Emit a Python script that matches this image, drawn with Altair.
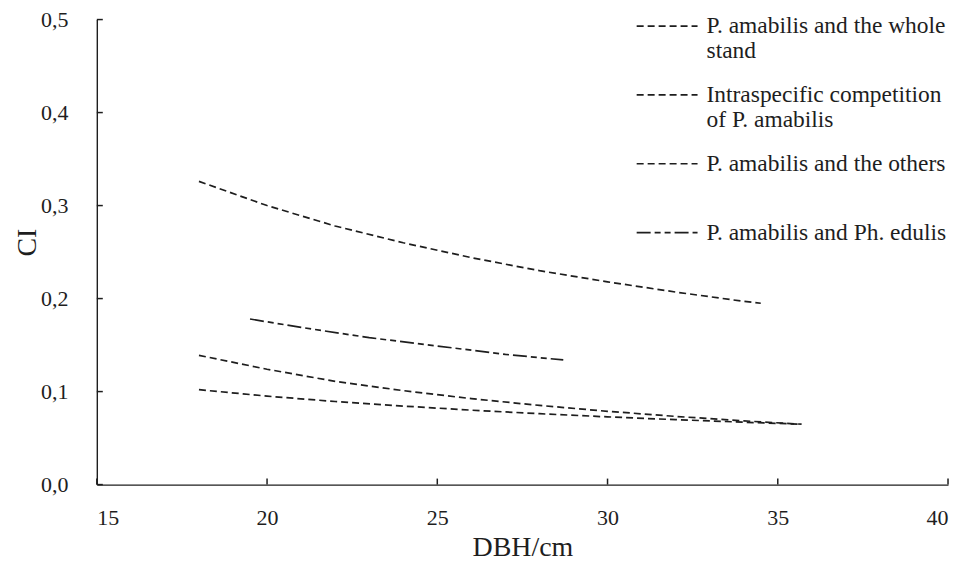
import altair as alt
import pandas as pd

# Series (DBH in cm, CI values)
names = [
    "P. amabilis and the whole|stand",
    "Intraspecific competition|of P. amabilis",
    "P. amabilis and the others| ",
    "P. amabilis and Ph. edulis",
]

whole_x = [18, 20, 22, 24, 26, 28, 30, 32, 34, 34.5]
whole_y = [0.326, 0.300, 0.278, 0.260, 0.244, 0.230, 0.218, 0.207, 0.197, 0.195]

intra_x = [18, 20, 22, 24, 26, 28, 30, 32, 34, 35.7]
intra_y = [0.139, 0.124, 0.111, 0.101, 0.0924, 0.0851, 0.0788, 0.0733, 0.0685, 0.0649]

others_x = [18, 20, 22, 24, 26, 28, 30, 32, 34, 35.7]
others_y = [0.102, 0.0951, 0.0893, 0.0844, 0.0800, 0.0762, 0.0728, 0.0698, 0.0671, 0.0649]

edulis_x = [19.5, 21, 23, 25, 27, 28.7]
edulis_y = [0.178, 0.169, 0.158, 0.149, 0.140, 0.134]

x_ticks = [15, 20, 25, 30, 35, 40]
y_ticks = [0.0, 0.1, 0.2, 0.3, 0.4, 0.5]
x_min, y_min = 15, 0.0

rows = []
for name, xs, ys in zip(names, [whole_x, intra_x, others_x, edulis_x],
                        [whole_y, intra_y, others_y, edulis_y]):
    for i, (a, b) in enumerate(zip(xs, ys)):
        rows.append({"series": name, "dbh": a, "ci": b, "order": i})
df = pd.DataFrame(rows)
xt_df = pd.DataFrame({"dbh": x_ticks, "ci": [y_min] * len(x_ticks)})
yt_df = pd.DataFrame({"ci": y_ticks, "dbh": [x_min] * len(y_ticks)})

FONT = "Liberation Serif, Times New Roman, DejaVu Serif, serif"
INK = "#1e1e1e"

xscale = alt.Scale(domain=[15, 40], nice=False, zero=False)
yscale = alt.Scale(domain=[0, 0.5], nice=False, zero=False)

lines = alt.Chart(df).mark_line(strokeWidth=1.7, color=INK).encode(
    x=alt.X("dbh:Q", scale=xscale,
            axis=alt.Axis(values=x_ticks, title="DBH/cm", ticks=False, grid=False,
                          domainColor=INK, domainWidth=1.4,
                          labelFont=FONT, labelFontSize=22, labelColor=INK,
                          labelPadding=23, labelExpr="format(datum.value, 'd')",
                          titleFont=FONT, titleFontSize=28, titleFontWeight="normal",
                          titleColor=INK, titleBaseline="middle", titleY=63)),
    y=alt.Y("ci:Q", scale=yscale,
            axis=alt.Axis(values=y_ticks, title="CI", ticks=False, grid=False,
                          domainColor=INK, domainWidth=1.4,
                          labelFont=FONT, labelFontSize=22, labelColor=INK,
                          labelPadding=29,
                          labelExpr="replace(format(datum.value, '.1f'), '.', ',')",
                          titleFont=FONT, titleFontSize=28, titleFontWeight="normal",
                          titleColor=INK, titleBaseline="middle", titleAngle=270,
                          titleX=-69, titleY=223)),
    strokeDash=alt.StrokeDash(
        "series:N",
        scale=alt.Scale(domain=names,
                        range=[[7, 4], [7, 4], [7, 4], [14, 4, 6, 4, 6, 4]]),
        legend=alt.Legend(title=None, orient="none", legendX=540, legendY=-25,
                          padding=0, symbolType="stroke", symbolSize=3721,
                          symbolStrokeWidth=1.7, symbolStrokeColor=INK,
                          labelFont=FONT, labelFontSize=23.5, labelColor=INK,
                          labelLimit=400, labelOffset=8, rowPadding=0,
                          labelBaseline="middle",
                          labelExpr="split(datum.label, '|')"),
    ),
    order="order:Q",
    detail="series:N",
)

# inward-pointing axis ticks, placed through the scales
yticks = alt.Chart(yt_df).mark_rule(color=INK, strokeWidth=1.5, x2Offset=6).encode(
    y=alt.Y("ci:Q", scale=yscale),
    x=alt.X("dbh:Q", scale=xscale),
    x2="dbh:Q",
)
xticks = alt.Chart(xt_df).mark_rule(color=INK, strokeWidth=1.5, y2Offset=-6).encode(
    x=alt.X("dbh:Q", scale=xscale),
    y=alt.Y("ci:Q", scale=yscale),
    y2="ci:Q",
)

chart = alt.layer(lines, yticks, xticks).properties(
    width=853, height=466,
    autosize=alt.AutoSizeParams(type="none"),
    padding={"left": 89, "top": 11, "right": 8, "bottom": 78},
    background="white",
).configure(font=FONT).configure_axis(labelFont=FONT, titleFont=FONT).configure_legend(
    labelFont=FONT
).configure_view(stroke=None)

chart.save("out.html", embed_options={"renderer": "svg", "actions": False})
